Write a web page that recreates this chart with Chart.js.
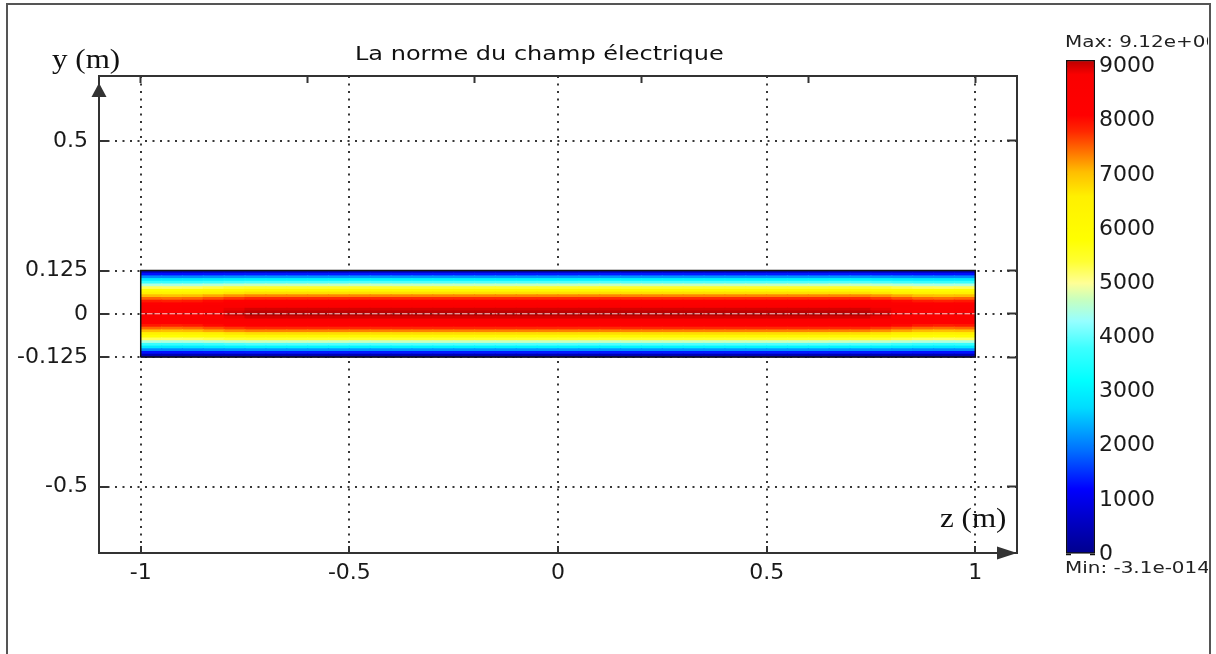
<!DOCTYPE html>
<html>
<head>
<meta charset="utf-8">
<title>La norme du champ électrique</title>
<script src="https://cdn.jsdelivr.net/npm/chart.js@4"></script>
<style>
  html, body { margin: 0; padding: 0; background: #fff; overflow: hidden; }
  #wrap { position: relative; width: 1216px; height: 654px; }
  #frame { position: absolute; left: 6px; top: 3px; width: 1205px; height: 700px; border: 2px solid #555; box-sizing: border-box; }
  canvas { position: absolute; top: 0; }
  #main { left: 0; }
  #bar { left: 1040px; }
</style>
</head>
<body>
<div id="wrap">
  <div id="frame"></div>
  <canvas id="main" width="1216" height="654"></canvas>
  <canvas id="bar" width="176" height="654"></canvas>
</div>
<script>
// axes ranges and ticks (m)
const zRange = [-1.1, 1.1];
const yRange = [-0.692, 0.688];
const xTicks = [-1, -0.5, 0, 0.5, 1];
const yTicks = [-0.5, -0.125, 0, 0.125, 0.5];

// guide domain
const domainZ = [-1, 1];
const domainY = [-0.125, 0.125];

// |E| (V/m) across the guide height, rows from y=-0.125 up to y=0.125
const rowValues = [450, 1350, 2200, 3050, 3900, 4700, 5450, 6150, 6750, 7350, 7800, 8250, 8600, 8850, 9000, 9100,
                   9100, 9000, 8850, 8600, 8250, 7800, 7350, 6750, 6150, 5450, 4700, 3900, 3050, 2200, 1350, 450];
// relative level along z (columns from z=-1 to z=1), a bit lower near both ends
const zFactor = [0.96, 0.955, 0.96, 0.975, 0.99,
                 1, 1, 1, 1, 1, 1, 1, 1, 1, 1, 1, 1, 1, 1, 1,
                 1, 1, 1, 1, 1, 1, 1, 1, 1, 1, 1, 1, 1, 1, 1,
                 0.99, 0.975, 0.96, 0.955, 0.96];

// colour bar
const cbMin = 0;
const cbMax = 9120;
const cbTicks = [0, 1000, 2000, 3000, 4000, 5000, 6000, 7000, 8000, 9000];
const maxLabel = 'Max: 9.12e+003';
const minLabel = 'Min: -3.1e-014';
// value, r, g, b
const colorStops = [
  [0, 0, 0, 140], [700, 0, 0, 205], [1200, 0, 0, 255], [1900, 0, 110, 255],
  [2700, 0, 220, 255], [3200, 0, 255, 255], [3800, 60, 255, 255], [4300, 150, 255, 255],
  [4700, 200, 255, 190], [5000, 255, 255, 150], [5400, 255, 255, 50], [5800, 255, 255, 0],
  [6600, 255, 240, 0], [7050, 255, 190, 0], [7400, 255, 120, 0], [7800, 255, 40, 0],
  [8100, 255, 0, 0], [8850, 250, 0, 0], [9120, 185, 0, 0]
];

function jet(v) {
  const t = Math.max(cbMin, Math.min(cbMax, v));
  for (let k = 1; k < colorStops.length; k++) {
    const [v1, ...c1] = colorStops[k];
    if (t <= v1) {
      const [v0, ...c0] = colorStops[k - 1];
      const f = (t - v0) / (v1 - v0);
      const c = c0.map((a, n) => Math.round(a + (c1[n] - a) * f));
      return `rgb(${c.join(',')})`;
    }
  }
  return 'rgb(185,0,0)';
}

function wideText(ctx, str, x, y, font, sx) {
  ctx.save();
  ctx.translate(x, y);
  ctx.scale(sx, 1);
  ctx.font = font;
  ctx.fillText(str, 0, 0);
  ctx.restore();
}

const tickFont = { family: '"DejaVu Sans", sans-serif', size: 22 };
const ink = '#333';
const labelInk = '#1a1a1a';
const setTicks = (list) => (s) => { s.ticks = list.map(v => ({ value: v })); };

// heatmap cells: one floating-bar dataset per row
const nRows = rowValues.length;
const nCols = zFactor.length;
const rowH = (domainY[1] - domainY[0]) / nRows;
const colW = (domainZ[1] - domainZ[0]) / nCols;

const cellSets = rowValues.map((v, i) => ({
  type: 'bar',
  data: zFactor.map((f, j) => ({
    x: domainZ[0] + (j + 0.5) * colW,
    y: [domainY[0] + i * rowH, domainY[0] + (i + 1) * rowH]
  })),
  backgroundColor: zFactor.map(f => jet(v * f)),
  borderWidth: 0,
  grouped: false,
  barPercentage: 1,
  categoryPercentage: 1,
  inflateAmount: 0.6
}));

const outline = {
  type: 'line',
  data: [
    { x: domainZ[0], y: domainY[0] }, { x: domainZ[1], y: domainY[0] },
    { x: domainZ[1], y: domainY[1] }, { x: domainZ[0], y: domainY[1] },
    { x: domainZ[0], y: domainY[0] }
  ],
  borderColor: '#111',
  borderWidth: 1.5,
  pointRadius: 0,
  fill: false,
  order: -1
};

const decor = {
  id: 'decor',
  afterDraw(chart) {
    const { ctx, chartArea: a } = chart;
    ctx.save();
    ctx.fillStyle = ink;
    ctx.beginPath();
    ctx.moveTo(a.left, a.top + 7);
    ctx.lineTo(a.left - 7.5, a.top + 21);
    ctx.lineTo(a.left + 7.5, a.top + 21);
    ctx.closePath();
    ctx.fill();
    ctx.beginPath();
    ctx.moveTo(a.right, a.bottom);
    ctx.lineTo(a.right - 20, a.bottom - 6.5);
    ctx.lineTo(a.right - 20, a.bottom + 6.5);
    ctx.closePath();
    ctx.fill();
    ctx.fillStyle = '#111';
    ctx.textBaseline = 'alphabetic';
    wideText(ctx, 'La norme du champ électrique', 355, 60, '20px "DejaVu Sans"', 1.2);
    wideText(ctx, 'y (m)', 52, 68, '27px "Liberation Serif"', 1.15);
    wideText(ctx, 'z (m)', 940, 527, '27px "Liberation Serif"', 1.15);
    ctx.restore();
  }
};

const axisGrid = {
  color: 'rgba(20,20,20,0.85)', lineWidth: 2, offset: false,
  drawTicks: true, tickColor: ink, tickWidth: 2
};

new Chart(document.getElementById('main'), {
  type: 'bar',
  data: { datasets: [outline, ...cellSets] },
  options: {
    responsive: false,
    animation: false,
    events: [],
    layout: { padding: { left: 0, top: 76, right: 199, bottom: 0 } },
    plugins: { legend: { display: false }, tooltip: { enabled: false } },
    scales: {
      x: {
        type: 'linear', position: 'bottom', min: zRange[0], max: zRange[1], offset: false,
        afterBuildTicks: setTicks(xTicks),
        afterFit: (s) => { s.height = 101; },
        grid: { ...axisGrid, tickLength: -7 },
        border: { color: ink, width: 2, dash: [2, 5.5] },
        ticks: { font: tickFont, color: labelInk, padding: 14, maxRotation: 0, autoSkip: false, callback: v => String(v) }
      },
      xTop: {
        type: 'linear', position: 'top', min: zRange[0], max: zRange[1],
        afterBuildTicks: setTicks(xTicks),
        afterFit: (s) => { s.height = 0; },
        grid: { drawOnChartArea: false, drawTicks: true, tickLength: -7, tickColor: ink, tickWidth: 2 },
        border: { color: ink, width: 2 },
        ticks: { display: false }
      },
      y: {
        type: 'linear', position: 'left', min: yRange[0], max: yRange[1],
        afterBuildTicks: setTicks(yTicks),
        afterFit: (s) => { s.width = 99; },
        grid: { ...axisGrid, tickLength: -9 },
        border: { color: ink, width: 2, dash: [2, 5.5] },
        ticks: { font: tickFont, color: labelInk, padding: 20, autoSkip: false, callback: v => String(v) }
      },
      yRight: {
        type: 'linear', position: 'right', min: yRange[0], max: yRange[1],
        afterBuildTicks: setTicks(yTicks),
        afterFit: (s) => { s.width = 0; },
        grid: { drawOnChartArea: false, drawTicks: true, tickLength: -10, tickColor: ink, tickWidth: 2 },
        border: { color: ink, width: 2 },
        ticks: { display: false }
      }
    }
  },
  plugins: [decor]
});

// colour bar chart
const cbText = {
  id: 'cbText',
  afterDraw(chart) {
    const { ctx } = chart;
    ctx.save();
    ctx.beginPath();
    ctx.rect(0, 0, 168, chart.height);
    ctx.clip();
    ctx.fillStyle = '#222';
    ctx.textBaseline = 'alphabetic';
    wideText(ctx, maxLabel, 25, 47, '15px "DejaVu Sans"', 1.33);
    wideText(ctx, minLabel, 25, 573, '15px "DejaVu Sans"', 1.33);
    ctx.restore();
  }
};

const cbGradient = (c) => {
  const chart = c.chart;
  if (!chart.chartArea) return null;
  const ys = chart.scales.y;
  const g = chart.ctx.createLinearGradient(0, ys.getPixelForValue(cbMin), 0, ys.getPixelForValue(cbMax));
  colorStops.forEach(([v, r, gg, b]) => g.addColorStop((v - cbMin) / (cbMax - cbMin), `rgb(${r},${gg},${b})`));
  return g;
};

new Chart(document.getElementById('bar'), {
  type: 'bar',
  data: {
    labels: ['|E|'],
    datasets: [{
      data: [[cbMin, cbMax]],
      backgroundColor: cbGradient,
      borderColor: '#111',
      borderWidth: 1.5,
      borderSkipped: false,
      barPercentage: 1,
      categoryPercentage: 1
    }]
  },
  options: {
    responsive: false,
    animation: false,
    events: [],
    layout: { padding: { left: 26, top: 60, right: 0, bottom: 100 } },
    plugins: { legend: { display: false }, tooltip: { enabled: false } },
    scales: {
      x: { display: false },
      y: {
        type: 'linear', position: 'right', min: cbMin, max: cbMax, z: 1,
        afterBuildTicks: setTicks(cbTicks),
        afterFit: (s) => { s.width = 121; },
        grid: { drawOnChartArea: false, drawTicks: true, tickLength: -5, tickColor: '#111', tickWidth: 1.5 },
        border: { display: false },
        ticks: { font: tickFont, color: labelInk, padding: 9, autoSkip: false, callback: v => String(v) }
      },
      yL: {
        type: 'linear', position: 'left', min: cbMin, max: cbMax, z: 1,
        afterBuildTicks: setTicks(cbTicks),
        afterFit: (s) => { s.width = 0; },
        grid: { drawOnChartArea: false, drawTicks: true, tickLength: -5, tickColor: '#111', tickWidth: 1.5 },
        border: { display: false },
        ticks: { display: false }
      }
    }
  },
  plugins: [cbText]
});
</script>
</body>
</html>
